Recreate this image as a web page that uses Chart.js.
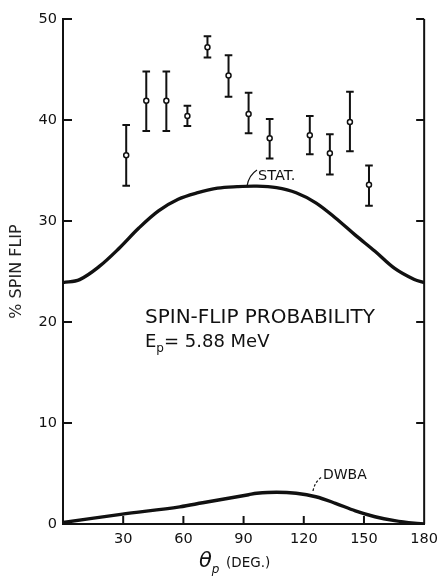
<!DOCTYPE html>
<html><head><meta charset="utf-8">
<script src="https://cdn.jsdelivr.net/npm/chart.js@4.4.1/dist/chart.umd.min.js"></script>
<style>html,body{margin:0;padding:0;background:#fff;}#wrap{width:445px;height:576px;}</style>
</head><body><div id="wrap"><canvas id="c" width="445" height="576"></canvas></div>
<script>
// ---- data ----
const angles   = [31.5, 41.5, 51.5, 62, 72, 82.5, 92.5, 103, 123, 133, 143, 152.5];
const spinFlip = [36.5, 41.9, 41.9, 40.4, 47.2, 44.4, 40.6, 38.2, 38.5, 36.7, 39.8, 33.6];
const errLow   = [33.5, 38.9, 38.9, 39.4, 46.2, 42.3, 38.7, 36.2, 36.6, 34.6, 36.9, 31.5];
const errHigh  = [39.5, 44.8, 44.8, 41.4, 48.3, 46.4, 42.7, 40.1, 40.4, 38.6, 42.8, 35.5];

const statAngles = [0, 8.3, 18.1, 28, 37.8, 47.6, 57.4, 67.2, 77, 86.8, 96.6, 106.4, 116.2, 126, 135.8, 145.7, 155.5, 165.3, 175.1, 180];
const statValues = [23.9, 24.2, 25.5, 27.3, 29.3, 31.0, 32.15, 32.8, 33.25, 33.4, 33.45, 33.3, 32.8, 31.8, 30.3, 28.6, 27.0, 25.3, 24.2, 23.9];

const dwbaAngles = [0, 28.8, 58.2, 69.6, 86.8, 92.5, 96.6, 106.4, 116.2, 126, 135.8, 145.7, 155.5, 165.3, 175.1, 180];
const dwbaValues = [0.15, 0.95, 1.7, 2.1, 2.7, 2.9, 3.04, 3.14, 3.04, 2.7, 2.05, 1.3, 0.72, 0.33, 0.07, 0.0];

const xTickValues = [0, 30, 60, 90, 120, 150, 180];
const yTickValues = [0, 10, 20, 30, 40, 50];

const INK = '#111';
const FONT = '"DejaVu Sans", sans-serif';

const pts = (xs, ys) => xs.map((v, i) => ({x: v, y: ys[i]}));

const decor = {
  id: 'decor',
  beforeDatasetsDraw(chart) {
    const {ctx, chartArea: a, scales: {x, y}} = chart;
    ctx.save();
    ctx.strokeStyle = INK;
    ctx.lineWidth = 2;
    ctx.beginPath(); ctx.moveTo(a.right, a.top); ctx.lineTo(a.right, a.bottom); ctx.stroke();
    yTickValues.forEach(v => {
      if (v === 0) return;
      const py = y.getPixelForValue(v);
      ctx.beginPath();
      ctx.moveTo(a.left, py); ctx.lineTo(a.left + 9, py);
      ctx.moveTo(a.right, py); ctx.lineTo(a.right - 8, py);
      ctx.stroke();
    });
    xTickValues.forEach(v => {
      if (v === 0 || v === 180) return;
      const px = x.getPixelForValue(v);
      ctx.beginPath(); ctx.moveTo(px, a.bottom); ctx.lineTo(px, a.bottom - 8); ctx.stroke();
    });
    ctx.lineWidth = 2;
    angles.forEach((ang, i) => {
      const px = x.getPixelForValue(ang);
      const y1 = y.getPixelForValue(errLow[i]);
      const y2 = y.getPixelForValue(errHigh[i]);
      ctx.beginPath();
      ctx.moveTo(px, y1); ctx.lineTo(px, y2);
      ctx.moveTo(px - 3.8, y1); ctx.lineTo(px + 3.8, y1);
      ctx.moveTo(px - 3.8, y2); ctx.lineTo(px + 3.8, y2);
      ctx.stroke();
    });
    ctx.restore();
  },
  afterDatasetsDraw(chart) {
    const {ctx} = chart;
    ctx.save();
    ctx.fillStyle = INK;
    ctx.strokeStyle = INK;
    ctx.textBaseline = 'alphabetic';
    ctx.textAlign = 'left';
    ctx.font = '14.5px ' + FONT;
    ctx.fillText('STAT.', 258, 180);
    ctx.lineWidth = 1.2;
    ctx.beginPath(); ctx.moveTo(247, 186); ctx.quadraticCurveTo(249, 175, 257, 170); ctx.stroke();
    ctx.font = '14px ' + FONT;
    ctx.fillText('DWBA', 323, 479);
    ctx.setLineDash([2.5, 2]);
    ctx.beginPath(); ctx.moveTo(313, 491); ctx.quadraticCurveTo(315, 481, 322, 477); ctx.stroke();
    ctx.setLineDash([]);
    ctx.font = '20px ' + FONT;
    ctx.fillText('SPIN-FLIP PROBABILITY', 145, 323);
    ctx.font = '18px ' + FONT;
    ctx.fillText('E', 145, 347);
    const wE = ctx.measureText('E').width;
    ctx.font = '12px ' + FONT;
    ctx.fillText('p', 145 + wE, 352);
    const wp = ctx.measureText('p').width;
    ctx.font = '18px ' + FONT;
    ctx.fillText('= 5.88 MeV', 145 + wE + wp, 347);
    ctx.font = 'italic 21px ' + FONT;
    ctx.fillText('\u03B8', 199, 567);
    const wt = ctx.measureText('\u03B8').width;
    ctx.font = 'italic 12px ' + FONT;
    ctx.fillText('p', 199 + wt, 573);
    ctx.font = '13.5px ' + FONT;
    ctx.fillText('(DEG.)', 226, 567);
    ctx.restore();
  }
};

new Chart(document.getElementById('c'), {
  type: 'scatter',
  data: {
    datasets: [
      {
        label: 'Data',
        data: pts(angles, spinFlip),
        pointRadius: 2.5,
        pointBackgroundColor: '#fff',
        pointBorderColor: INK,
        pointBorderWidth: 1.5,
        showLine: false
      },
      {
        label: 'STAT.',
        data: pts(statAngles, statValues),
        showLine: true,
        borderColor: INK,
        borderWidth: 3.4,
        pointRadius: 0,
        tension: 0.35,
        fill: false
      },
      {
        label: 'DWBA',
        data: pts(dwbaAngles, dwbaValues),
        showLine: true,
        borderColor: INK,
        borderWidth: 3.4,
        pointRadius: 0,
        tension: 0.35,
        fill: false
      }
    ]
  },
  options: {
    responsive: false,
    animation: false,
    devicePixelRatio: 1,
    layout: {padding: {top: 19, right: 15, left: 0, bottom: 0}},
    plugins: {legend: {display: false}, tooltip: {enabled: false}},
    scales: {
      x: {
        type: 'linear', min: 0, max: 180,
        afterBuildTicks: s => { s.ticks = xTickValues.map(v => ({value: v})); },
        ticks: {
          color: INK, font: {family: FONT, size: 14.5}, padding: 7, maxRotation: 0,
          callback: v => (v === 0 ? '' : String(v))
        },
        grid: {display: false, drawTicks: false},
        border: {display: true, color: INK, width: 2},
        afterFit: s => { s.height = 52; }
      },
      y: {
        type: 'linear', min: 0, max: 50,
        afterBuildTicks: s => { s.ticks = yTickValues.map(v => ({value: v})); },
        ticks: {color: INK, font: {family: FONT, size: 14.5}, padding: 6},
        grid: {display: false, drawTicks: false},
        border: {display: true, color: INK, width: 2},
        title: {display: true, text: '% SPIN FLIP', color: '#222', font: {family: FONT, size: 16}, padding: {top: 7, bottom: 0}},
        afterFit: s => { s.width = 63; }
      }
    }
  },
  plugins: [decor]
});
</script>
</body></html>
